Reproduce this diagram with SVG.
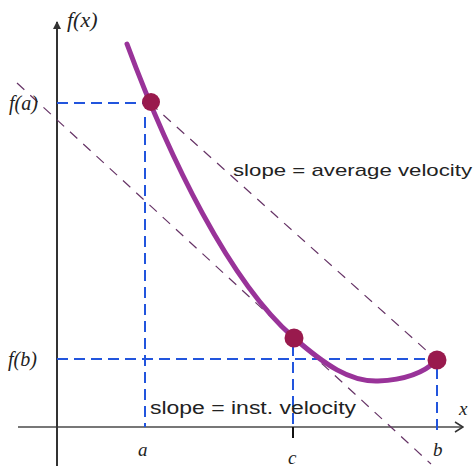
<svg xmlns="http://www.w3.org/2000/svg" width="474" height="468" viewBox="0 0 474 468">
<style>
.lbl{font-family:"Liberation Serif","Times New Roman",serif;font-style:italic;fill:#222}
.txt{font-family:"Liberation Sans",Arial,sans-serif;fill:#222}
.guide{stroke:#2255dd;stroke-width:2;stroke-dasharray:11 6;fill:none}
.slope{stroke:#663366;stroke-width:1.2;stroke-dasharray:10 8;fill:none}
.dot{fill:#991a4d}
</style>
<defs>
<marker id="open" markerWidth="10" markerHeight="12" refX="9" refY="6" orient="auto" markerUnits="userSpaceOnUse">
<path d="M1,1 L9,6 L1,11" fill="none" stroke="#333" stroke-width="1.5"/>
</marker>
<marker id="fill" markerWidth="8" markerHeight="10" refX="4" refY="1" orient="0" markerUnits="userSpaceOnUse">
<path d="M0,8 L4,0 L8,8 Z" fill="#333"/>
</marker>
</defs>
<rect width="474" height="468" fill="#fff"/>
<g id="axes">
<line x1="18" y1="427" x2="463" y2="427" stroke="#777" stroke-width="2" marker-end="url(#open)"/>
<line x1="57" y1="466" x2="57" y2="22" stroke="#333" stroke-width="2" marker-end="url(#fill)"/>
</g>
<g id="connectors">
<line class="guide" x1="57" y1="103" x2="150" y2="103"/>
<line class="guide" x1="145" y1="117" x2="145" y2="427"/>
<line class="guide" x1="57" y1="359" x2="437" y2="359"/>
<line class="guide" x1="293" y1="345" x2="293" y2="427"/>
<line class="guide" x1="437" y1="368" x2="437" y2="433"/>
<line x1="293" y1="427" x2="293" y2="438" stroke="#111" stroke-width="2"/>
<line class="slope" x1="17" y1="83" x2="431" y2="464"/>
<line class="slope" x1="150" y1="103" x2="437" y2="360"/>
</g>
<g id="curve">
<path d="M127,44 C170,160 230,282 293,337 C325,365 350,382 378,381 C405,380 425,372 437,360" fill="none" stroke="#993399" stroke-width="5" stroke-linecap="round"/>
</g>
<g id="point-a"><circle class="dot" cx="151" cy="102" r="9"/></g>
<g id="point-c"><circle class="dot" cx="294" cy="338" r="9.5"/></g>
<g id="point-b"><circle class="dot" cx="437" cy="360" r="9.5"/></g>
<g id="labels">
<text class="lbl" x="67" y="27" font-size="22">f(x)</text>
<text class="lbl" x="9" y="110" font-size="20">f(a)</text>
<text class="lbl" x="8" y="366" font-size="20">f(b)</text>
<text class="lbl" x="138" y="456" font-size="19">a</text>
<text class="lbl" x="288" y="464" font-size="19">c</text>
<text class="lbl" x="433" y="456" font-size="19">b</text>
<text class="lbl" x="459" y="415" font-size="19">x</text>
<text class="txt" x="233" y="176" font-size="17" textLength="239" lengthAdjust="spacingAndGlyphs">slope = average velocity</text>
<text class="txt" x="150" y="414" font-size="18" textLength="206" lengthAdjust="spacingAndGlyphs">slope = inst. velocity</text>
</g>
</svg>
